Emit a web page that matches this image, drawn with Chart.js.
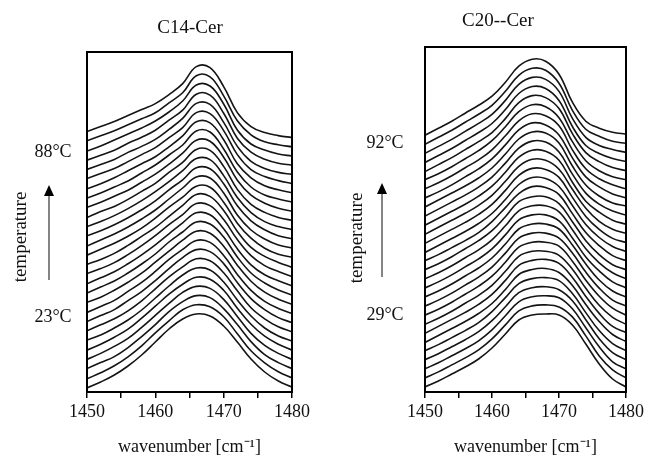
<!DOCTYPE html>
<html>
<head>
<meta charset="utf-8">
<script src="https://cdn.jsdelivr.net/npm/chart.js@4.4.1/dist/chart.umd.min.js"></script>
<style>
  body { margin: 0; background: #fff; }
  #wrap { position: relative; width: 647px; height: 463px; }
  canvas { position: absolute; top: 0; }
</style>
</head>
<body>
<div id="wrap">
  <canvas id="c14" width="330" height="463" style="left:0;width:330px;height:463px"></canvas>
  <canvas id="c20" width="317" height="463" style="left:330px;width:317px;height:463px"></canvas>
</div>
<script>
// wavenumber grid (cm-1)
const wavenumbers = [1450, 1452, 1454, 1456, 1458, 1460, 1462, 1464, 1466, 1468, 1470, 1472, 1474, 1476, 1478, 1480];
const xTicks = [1450, 1460, 1470, 1480];

// C14-Cer spectra, lowest temperature first (23 -> 88 °C)
const c14Spectra = [
  [4,10,17,26,37,50,63,73,78,76,66,50,33,20,11,5],
  [4,10,17,26,37,50,62,73,78,76,66,49,32,20,11,5],
  [5,11,17,26,37,49,62,72,78,76,65,49,32,19,11,5],
  [5,11,18,26,37,49,61,72,78,76,65,48,31,19,11,5],
  [5,11,18,26,37,49,61,71,78,76,65,47,31,19,11,5],
  [6,11,18,26,36,48,60,71,78,76,64,46,30,18,10,5],
  [6,12,18,26,36,48,60,70,78,76,64,46,29,18,10,5],
  [6,12,18,27,36,47,59,70,78,76,64,45,29,18,10,5],
  [6,12,18,27,36,47,59,69,78,76,63,44,28,17,10,5],
  [7,12,19,27,36,47,58,69,78,76,63,44,28,17,10,5],
  [7,13,19,27,36,46,58,68,78,76,63,43,27,17,10,5],
  [7,13,19,27,36,46,57,68,78,76,62,42,26,16,10,5],
  [8,13,19,27,36,46,57,67,78,76,62,42,26,16,10,5],
  [8,13,19,27,36,45,56,67,78,76,62,41,25,16,10,5],
  [8,14,20,27,35,45,56,66,77,76,61,40,25,15,9,6],
  [8,14,20,27,35,44,55,66,77,76,61,39,24,15,9,6],
  [9,14,20,27,35,44,55,65,77,76,61,39,24,15,9,6],
  [9,14,20,27,35,44,54,65,77,76,60,38,23,14,9,6],
  [9,15,20,27,35,43,54,64,77,76,60,37,22,14,9,6],
  [10,15,21,27,35,43,53,64,77,76,60,37,22,14,9,6],
  [10,15,21,27,35,43,53,63,77,76,59,36,21,13,9,6],
  [10,15,21,28,35,42,52,63,77,76,59,35,21,13,9,6],
  [11,16,21,28,35,42,52,62,77,76,59,35,20,13,9,6],
  [11,16,21,28,34,41,51,62,77,76,58,34,19,12,8,6],
  [11,16,21,28,34,41,51,61,77,76,58,33,19,12,8,6],
  [11,16,22,28,34,41,50,61,77,76,58,32,18,12,8,6],
  [12,17,22,28,34,40,50,60,77,76,57,32,18,11,8,6],
  [12,17,22,28,34,40,49,60,77,76,57,31,17,11,8,6]
];

// C20-Cer spectra, lowest temperature first (29 -> 92 °C)
const c20Spectra = [
  [5,11,18,25,33,44,58,72,77,78,77,67,48,28,13,5],
  [5,11,18,25,33,44,58,72,77,78,76,66,47,27,13,5],
  [5,11,18,25,33,44,58,72,77,78,76,65,46,27,12,5],
  [5,11,18,25,33,44,58,72,77,78,75,64,45,26,12,5],
  [5,11,18,25,33,44,58,72,77,78,75,62,43,25,12,5],
  [4,11,18,25,33,43,57,72,77,78,74,61,42,25,12,5],
  [4,11,18,25,33,43,57,72,77,78,74,60,41,24,11,5],
  [4,10,17,25,33,43,57,72,77,77,73,59,40,23,11,4],
  [4,10,17,25,33,43,57,72,77,77,73,58,39,23,11,4],
  [4,10,17,25,33,43,57,72,77,77,72,57,38,22,10,4],
  [4,10,17,25,33,43,57,72,77,77,72,56,37,21,10,4],
  [4,10,17,25,33,43,57,72,77,77,71,54,35,21,10,4],
  [4,10,17,25,33,43,57,72,77,77,71,53,34,20,10,4],
  [4,10,17,25,33,43,57,72,77,77,70,52,33,19,9,4],
  [4,10,17,24,32,43,57,71,78,77,70,51,32,19,9,4],
  [3,10,17,24,32,42,56,71,78,77,69,50,31,18,9,4],
  [3,10,17,24,32,42,56,71,78,77,69,49,30,17,8,4],
  [3,10,17,24,32,42,56,71,78,77,68,48,29,16,8,4],
  [3,10,17,24,32,42,56,71,78,77,68,46,27,16,8,4],
  [3,10,17,24,32,42,56,71,78,77,67,45,26,15,8,4],
  [3,10,17,24,32,42,56,71,78,77,67,44,25,14,7,4],
  [3,9,16,24,32,42,56,71,78,76,66,43,24,14,7,3],
  [3,9,16,24,32,42,56,71,78,76,66,42,23,13,7,3],
  [3,9,16,24,32,42,56,71,78,76,65,41,22,12,6,3],
  [2,9,16,24,32,41,55,71,78,76,65,40,21,12,6,3],
  [2,9,16,24,32,41,55,71,78,76,64,38,19,11,6,3],
  [2,9,16,24,32,41,55,71,78,76,64,37,18,10,6,3],
  [2,9,16,24,32,41,55,71,78,76,63,36,17,10,5,3],
  [2,9,16,24,32,41,55,71,78,76,63,35,16,9,5,3]
];

const c14Temps = ['23°C', '88°C'];
const c20Temps = ['29°C', '92°C'];

const FONT = '"Liberation Serif", "Times New Roman", serif';

// frame, panel title, temperature labels and arrow
const sideNotes = {
  id: 'sideNotes',
  afterDraw(chart, args, o) {
    const ctx = chart.ctx;
    const a = chart.chartArea;
    ctx.save();
    ctx.strokeStyle = '#000';
    ctx.lineWidth = 2;
    ctx.strokeRect(a.left, a.top, a.right - a.left, a.bottom - a.top);

    ctx.fillStyle = '#111';
    ctx.font = '19px ' + FONT;
    ctx.textAlign = 'center';
    ctx.textBaseline = 'middle';
    ctx.fillText(o.title, o.titleX, o.titleY);

    ctx.font = '18px ' + FONT;
    ctx.fillText(o.temps[1], o.labelX, o.highY);
    ctx.fillText(o.temps[0], o.labelX, o.lowY);

    // arrow
    ctx.strokeStyle = '#333';
    ctx.lineWidth = 1.2;
    ctx.beginPath();
    ctx.moveTo(o.arrowX, o.arrowBottom);
    ctx.lineTo(o.arrowX, o.arrowTop + 8);
    ctx.stroke();
    ctx.fillStyle = '#000';
    ctx.beginPath();
    ctx.moveTo(o.arrowX, o.arrowTop);
    ctx.lineTo(o.arrowX - 5, o.arrowTop + 11);
    ctx.lineTo(o.arrowX + 5, o.arrowTop + 11);
    ctx.closePath();
    ctx.fill();

    // rotated word
    ctx.fillStyle = '#111';
    ctx.font = '19px ' + FONT;
    ctx.translate(o.wordX, o.wordY);
    ctx.rotate(-Math.PI / 2);
    ctx.fillText('temperature', 0, 0);
    ctx.restore();
  }
};

function makePanel(id, spectra, step, yMax, pad, notes) {
  const datasets = spectra.map((row, i) => ({
    data: wavenumbers.map((w, j) => ({ x: w, y: row[j] + i * step })),
    borderColor: '#141414',
    borderWidth: 1.6,
    pointRadius: 0,
    tension: 0.4,
    fill: false
  }));
  return new Chart(document.getElementById(id), {
    type: 'line',
    data: { datasets },
    options: {
      responsive: false,
      animation: false,
      events: [],
      layout: { padding: pad },
      plugins: {
        legend: { display: false },
        tooltip: { enabled: false },
        sideNotes: notes
      },
      scales: {
        x: {
          type: 'linear',
          min: 1450,
          max: 1480,
          afterFit: s => { s.height = 71; },
          ticks: {
            stepSize: 5,
            autoSkip: false,
            maxRotation: 0,
            padding: 3,
            color: '#111',
            font: { family: FONT, size: 18 },
            callback: v => xTicks.includes(v) ? String(v) : ''
          },
          grid: { drawOnChartArea: false, drawTicks: true, tickLength: 6, color: '#000', lineWidth: 1.5 },
          border: { display: true, color: '#000', width: 2 },
          title: {
            display: true,
            text: 'wavenumber [cm⁻¹]',
            color: '#111',
            font: { family: FONT, size: 18 },
            padding: { top: 0, bottom: 5 }
          }
        },
        y: { display: false, min: 0, max: yMax }
      }
    },
    plugins: [sideNotes]
  });
}

makePanel('c14', c14Spectra, 9.2, 340,
  { left: 87, right: 38, top: 52, bottom: 0 },
  { title: 'C14-Cer', titleX: 190, titleY: 28, temps: c14Temps, labelX: 53, highY: 152, lowY: 317,
    arrowX: 49, arrowTop: 185, arrowBottom: 280, wordX: 21, wordY: 237 });

makePanel('c20', c20Spectra, 9.1, 345,
  { left: 95, right: 18, top: 47, bottom: 0 },
  { title: 'C20--Cer', titleX: 168, titleY: 21, temps: c20Temps, labelX: 55, highY: 143, lowY: 315,
    arrowX: 52, arrowTop: 183, arrowBottom: 277, wordX: 27, wordY: 238 });
</script>
</body>
</html>
